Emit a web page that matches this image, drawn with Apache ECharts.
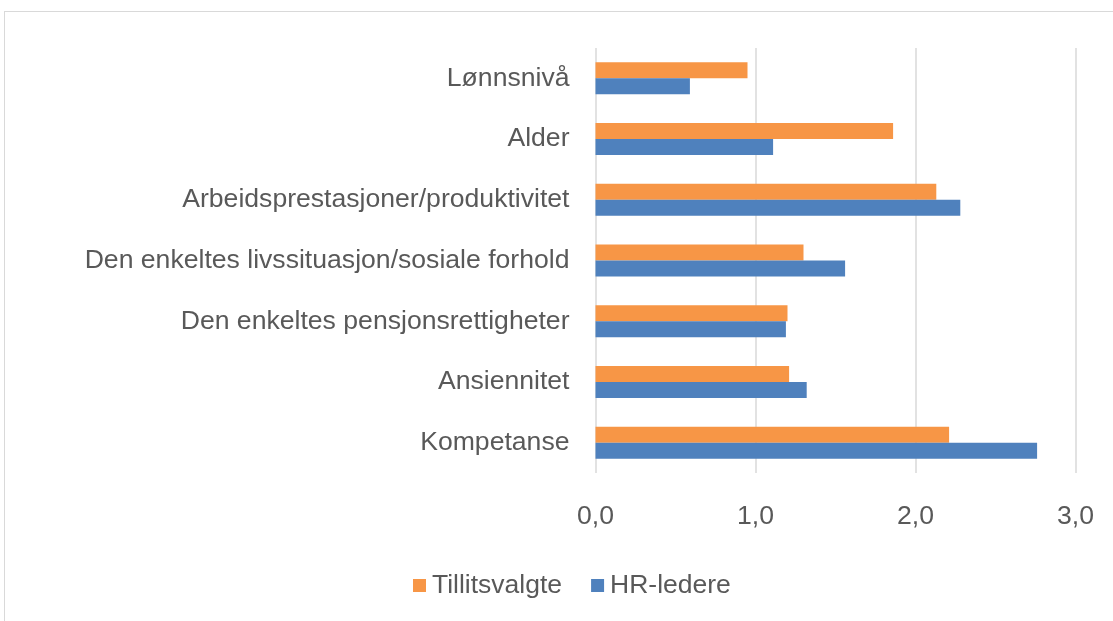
<!DOCTYPE html>
<html>
<head>
<meta charset="utf-8">
<script src="https://cdn.jsdelivr.net/npm/echarts@6/dist/echarts.min.js"></script>
<style>
  html, body { margin:0; padding:0; background:#fff; }
  #frame { position:absolute; left:4px; top:11px; width:1200px; height:700px; border:1px solid #d9d9d9; box-sizing:border-box; }
  #chart { position:absolute; left:0; top:0; width:1113px; height:621px; }
</style>
</head>
<body>
<div id="frame"></div>
<div id="chart"></div>
<script>
const categories = ["Lønnsnivå", "Alder", "Arbeidsprestasjoner/produktivitet", "Den enkeltes livssituasjon/sosiale forhold", "Den enkeltes pensjonsrettigheter", "Ansiennitet", "Kompetanse"];
const tillitsvalgte = [0.95, 1.86, 2.13, 1.30, 1.20, 1.21, 2.21];
const hrLedere = [0.59, 1.11, 2.28, 1.56, 1.19, 1.32, 2.76];
const xTicks = [0, 1, 2, 3];

const font = '"Liberation Sans", Arial, Helvetica, sans-serif';
const chart = echarts.init(document.getElementById('chart'));
chart.setOption({
  animation: false,
  textStyle: { fontFamily: font },
  grid: { left: 595.5, right: 37.5, top: 48, bottom: 148, containLabel: false },
  legend: {
    data: ['Tillitsvalgte', 'HR-ledere'],
    left: 408, top: 567,
    itemWidth: 13, itemHeight: 13, itemGap: 29,
    icon: 'rect',
    textStyle: { fontSize: 26.5, color: '#595959', fontFamily: font, padding: [0, 0, 0, 1] }
  },
  xAxis: {
    type: 'value', min: 0, max: 3, interval: 1,
    axisLine: { show: false }, axisTick: { show: false },
    splitLine: { show: true, lineStyle: { color: '#d9d9d9', width: 1.5 } },
    axisLabel: { fontSize: 26.6, color: '#595959', margin: 30,
      formatter: v => xTicks.includes(v) ? v.toFixed(1).replace('.', ',') : '' }
  },
  yAxis: {
    type: 'category', data: categories, inverse: true,
    axisLine: { show: false }, axisTick: { show: false },
    axisLabel: { fontSize: 26.6, color: '#595959', margin: 26, padding: [4, 0, 0, 0] }
  },
  series: [
    { name: 'Tillitsvalgte', type: 'bar', data: tillitsvalgte, barWidth: 16, barGap: '0%',
      itemStyle: { color: '#F79646' } },
    { name: 'HR-ledere', type: 'bar', data: hrLedere, barWidth: 16, barGap: '0%',
      itemStyle: { color: '#4F81BD' } }
  ]
});
</script>
</body>
</html>
